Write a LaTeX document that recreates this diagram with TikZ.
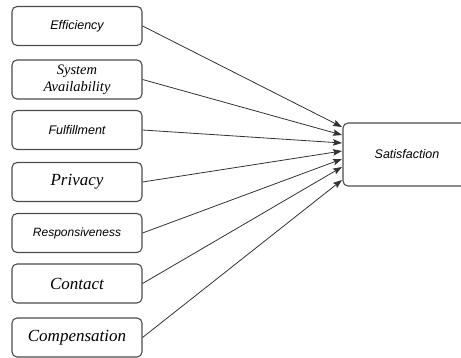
\documentclass[tikz,border=0pt]{standalone}
\usepackage{fontspec}
\setmainfont{Liberation Serif}
\newfontfamily\arialf{Liberation Sans}
\newfontfamily\timesf{Liberation Serif}
\usetikzlibrary{arrows.meta}
\begin{document}
\begin{tikzpicture}[x=1pt,y=-1pt,
  box/.style={draw=black!70, line width=1.1pt, rounded corners=5pt,
    minimum width=130pt, minimum height=39pt, inner sep=0pt, align=center},
  sansl/.style={font=\arialf\itshape\fontsize{12.5}{15}\selectfont},
  serifl/.style={font=\timesf\itshape\fontsize{17}{19}\selectfont},
  arr/.style={draw=black!80, line width=0.8pt, -{Stealth[length=9pt,width=6.5pt,inset=1.5pt]}}]
\useasboundingbox (0,0) rectangle (461,358);
\node[box, sansl] (b1) at (77,26) {Efficiency};
\node[box, font=\timesf\itshape\fontsize{14.5}{17}\selectfont] (b2) at (77,79.5) {System\\Availability};
\node[box, sansl] (b3) at (77,130) {Fulfillment};
\node[box, serifl] (b4) at (77,182) {Privacy};
\node[box, font=\arialf\itshape\fontsize{12}{14}\selectfont] (b5) at (77,233) {Responsiveness};
\node[box, serifl] (b6) at (77,283.5) {Contact};
\node[box, serifl] (b7) at (77,337.5) {Compensation};
\node[box, sansl, minimum width=128pt, minimum height=63pt] (sat) at (407,154.5) {Satisfaction};
\coordinate (t1) at (342,127);
\coordinate (t2) at (342,135);
\coordinate (t3) at (342,143);
\coordinate (t4) at (342,151);
\coordinate (t5) at (342,159);
\coordinate (t6) at (342,167);
\coordinate (t7) at (342,180);
\foreach \i in {1,...,7} { \draw[arr] (b\i.east) -- (t\i); }
\end{tikzpicture}
\end{document}
